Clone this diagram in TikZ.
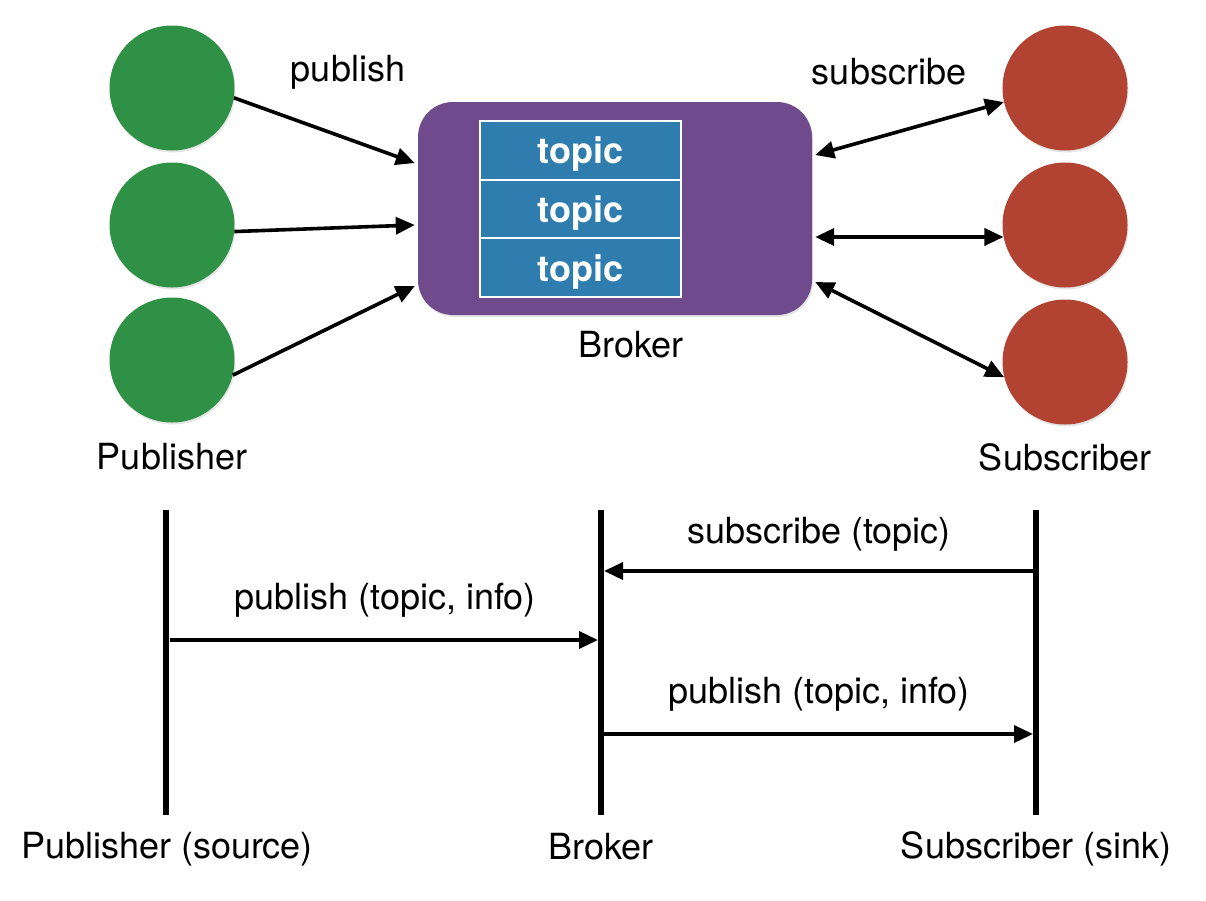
\documentclass[tikz,border=0pt]{standalone}
\usepackage{fontspec}
\setmainfont{TeX Gyre Heros}
\usetikzlibrary{arrows.meta,shapes,shadows,calc}

\definecolor{pubgreen}{RGB}{46,145,70}
\definecolor{subred}{RGB}{178,66,50}
\definecolor{brokerpurple}{RGB}{111,75,141}
\definecolor{topicblue}{RGB}{47,125,174}

\begin{document}
\begin{tikzpicture}[x=1pt,y=-1pt,>={Triangle[length=19pt,width=17pt]},
    font=\fontsize{36}{43}\selectfont]
  \tikzstyle{client}=[circle,minimum size=125pt,inner sep=0pt,
                      drop shadow={opacity=0.2,shadow xshift=1pt,shadow yshift=-2pt}]
  \tikzstyle{publisher}=[client,fill=pubgreen]
  \tikzstyle{subscriber}=[client,fill=subred]
  \tikzstyle{topic}=[rectangle,draw=white,line width=2pt,fill=topicblue,
                     text=white,font=\fontsize{36}{43}\selectfont\bfseries,
                     minimum width=201pt,minimum height=58.7pt,inner sep=0pt,
                     text depth=0pt]
  \tikzstyle{msg}=[->,line width=3.6pt]
  \tikzstyle{lifeline}=[line width=6.5pt]

  \useasboundingbox (0,0) rectangle (1206,900);

  % broker with its topics
  \node [rectangle,rounded corners=35pt,fill=brokerpurple,minimum width=394pt,
         minimum height=213pt,
         drop shadow={opacity=0.2,shadow xshift=1pt,shadow yshift=-2pt}]
         (broker) at (615,208.5) {};
  \node [topic] (topic1) at (580.5,150.3) {topic};
  \node [topic] (topic2) at (580.5,209)   {topic};
  \node [topic] (topic3) at (580.5,267.7) {topic};
  \node (brokerlabel) at (631,345) {Broker};

  % publishers
  \node [publisher] (pub1) at (172,88)  {};
  \node [publisher] (pub2) at (172,225) {};
  \node [publisher] (pub3) at (172,360) {};
  \node (publabel) at (172,457) {Publisher};
  \node (publishlabel) at (348,72) {publish};

  % subscribers
  \node [subscriber] (sub1) at (1065,88)  {};
  \node [subscriber] (sub2) at (1065,225) {};
  \node [subscriber] (sub3) at (1065,362) {};
  \node (sublabel) at (1065,457) {Subscriber};
  \node (subscribelabel) at (889,72) {subscribe};

  \draw [msg] (pub1.-9)   -- ($(broker.west)+(-3,-45.5)$);
  \draw [msg] (pub2.-6)   -- ($(broker.west)+(-3,16.5)$);
  \draw [msg] (pub3.-14.5) -- ($(broker.west)+(-3,77.5)$);

  \draw [msg,<->] ($(broker.east)+(3,-53.5)$) -- (sub1.193.6);
  \draw [msg,<->] ($(broker.east)+(3,28.5)$)  -- (sub2.191.5);
  \draw [msg,<->] ($(broker.east)+(3,73.5)$)  -- (sub3.194);

  % sequence part
  \coordinate (srctop) at (166,510);
  \coordinate (srcbot) at (166,815);
  \coordinate (brktop) at (601,510);
  \coordinate (brkbot) at (601,815);
  \coordinate (snktop) at (1036,510);
  \coordinate (snkbot) at (1036,815);
  \draw [lifeline] (srctop) -- (srcbot);
  \draw [lifeline] (brktop) -- (brkbot);
  \draw [lifeline] (snktop) -- (snkbot);

  \node (srclabel) at (167,849) {Publisher (source)};
  \node (brklabel) at (601,847) {Broker};
  \node (snklabel) at (1036,849) {Subscriber (sink)};

  \coordinate (snk1) at (1036,571);
  \coordinate (brk1) at (601,571);
  \coordinate (src2) at (166,640);
  \coordinate (brk2) at (601,640);
  \coordinate (brk3) at (601,734);
  \coordinate (snk3) at (1036,734);

  \draw [msg,shorten <=3pt,shorten >=3pt] (snk1) -- (brk1);
  \node (sublbl) at (819,534) {subscribe (topic)};
  \draw [msg,shorten <=4pt,shorten >=3pt] (src2) -- (brk2);
  \node (publbl1) at (385,600) {publish (topic, info)};
  \draw [msg,shorten <=3pt,shorten >=3pt] (brk3) -- (snk3);
  \node (publbl2) at (819,694) {publish (topic, info)};
\end{tikzpicture}
\end{document}
